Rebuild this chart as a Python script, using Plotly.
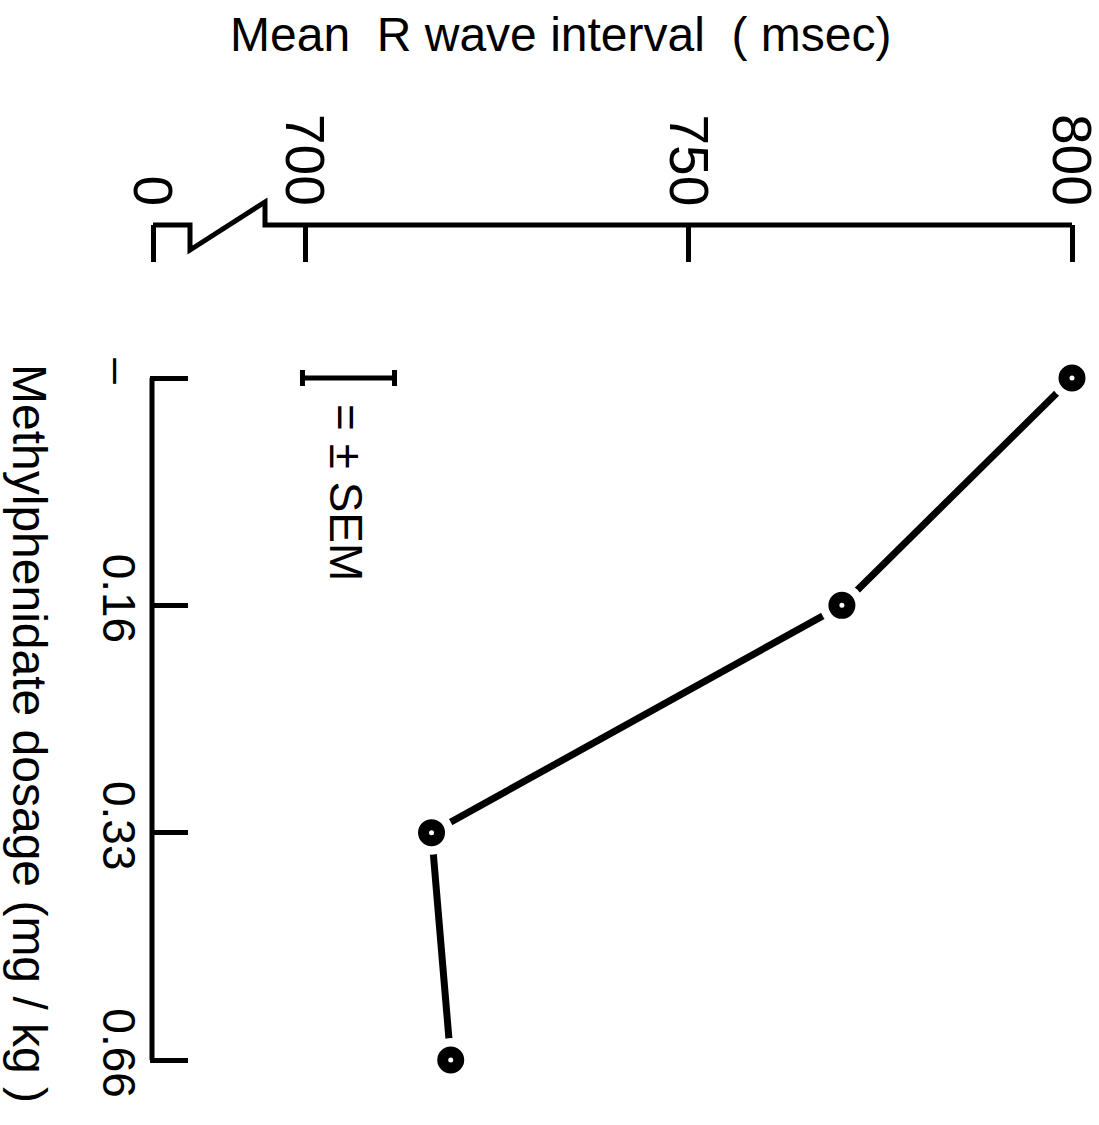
import plotly.graph_objects as go

# Mean R-R interval at each methylphenidate dose
DOSES = ["–", "0.16", "0.33", "0.66"]
RR_MSEC = [800.0, 770.0, 716.5, 719.0]

# Interval axis ticks (axis is broken between 0 and 700)
X_TICK_VALUES = [700, 750, 800]
X_TICK_TEXT = ["0", "700", "750", "800"]

# Size of the ± SEM key bar (msec)
SEM_MSEC = 6.0

FONT = "Liberation Sans, Arial, sans-serif"

W, H = 1099, 1125
ML, MR, MT, MB = 150, 9, 225, 25
PW, PH = W - ML - MR, H - MT - MB

# pixel layout of the interval axis
PX_700, PX_800 = 305, 1072
PX_PER_MS = (PX_800 - PX_700) / 100.0


def xval(px):
    """Convert a horizontal pixel position into axis units."""
    return 700 + (px - PX_700) / PX_PER_MS


def ypap(py):
    """Convert a vertical pixel position into paper units."""
    return (H - MB - py) / PH


X_RANGE = [xval(ML), xval(W - MR)]
ZERO_POS = xval(153)  # where the "0" sits left of the break
X_TICK_POS = [ZERO_POS] + X_TICK_VALUES

# category axis: first tick at 378 px, last at 1060 px
UNIT = (1060 - 378) / 3.0
Y_RANGE = [3 + (H - MB - 1060) / UNIT, -(378 - MT) / UNIT]

fig = go.Figure()

# connecting line
fig.add_trace(go.Scatter(
    x=RR_MSEC, y=DOSES, mode="lines",
    line=dict(color="black", width=7),
    hoverinfo="skip", showlegend=False,
))
# white halo leaves a gap between line and symbol
fig.add_trace(go.Scatter(
    x=RR_MSEC, y=DOSES, mode="markers",
    marker=dict(color="white", size=44),
    hoverinfo="skip", showlegend=False,
))
# data symbols
fig.add_trace(go.Scatter(
    x=RR_MSEC, y=DOSES, mode="markers",
    marker=dict(symbol="circle", color="white", size=16,
                line=dict(color="black", width=11)),
    showlegend=False,
))
# ± SEM key
fig.add_trace(go.Scatter(
    x=[xval(348.5)], y=[DOSES[0]], mode="markers",
    marker=dict(opacity=0),
    error_x=dict(type="data", array=[SEM_MSEC], color="black",
                 thickness=5, width=8),
    hoverinfo="skip", showlegend=False,
))

# interval axis line with the break symbol
brk = [
    (ZERO_POS, 1.0),
    (xval(190), 1.0),
    (xval(190), ypap(250)),
    (xval(265), ypap(202)),
    (xval(265), 1.0),
    (800, 1.0),
]
path = "M " + " L ".join(f"{a},{b}" for a, b in brk)
fig.add_shape(type="path", path=path, xref="x", yref="paper",
              line=dict(color="black", width=5))

# dosage axis line
fig.add_shape(type="line", xref="paper", yref="y",
              x0=(152 - ML) / PW, x1=(152 - ML) / PW, y0=0, y1=3,
              line=dict(color="black", width=5))

# rotated interval tick labels, sitting just above the axis line
for pos, txt in zip(X_TICK_POS, X_TICK_TEXT):
    fig.add_annotation(
        text=txt, textangle=90, showarrow=False,
        xref="x", yref="paper", x=pos, y=ypap(207),
        xanchor="center", yanchor="bottom",
        borderpad=0,
        font=dict(family=FONT, size=55, color="black"),
    )

fig.add_annotation(
    text="= ± SEM", textangle=90, showarrow=False,
    xref="x", yref="paper", x=xval(346), y=ypap(492),
    xanchor="center", yanchor="middle",
    font=dict(family=FONT, size=46, color="black"),
)
fig.add_annotation(
    text="Mean  R wave interval  ( msec)", showarrow=False,
    xref="paper", yref="paper", x=(561 - ML) / PW, y=ypap(34),
    xanchor="center", yanchor="middle",
    font=dict(family=FONT, size=48, color="black"),
)
fig.add_annotation(
    text="Methylphenidate dosage (mg / kg )", textangle=90, showarrow=False,
    xref="paper", yref="paper", x=(30 - ML) / PW, y=ypap(733),
    xanchor="center", yanchor="middle",
    font=dict(family=FONT, size=48, color="black"),
)

fig.update_xaxes(
    range=X_RANGE, side="top", automargin=False,
    tickvals=X_TICK_POS, showticklabels=False,
    ticks="inside", ticklen=37, tickwidth=5, tickcolor="black",
    showline=False, showgrid=False, zeroline=False,
)
fig.update_yaxes(
    type="category", categoryarray=DOSES, range=Y_RANGE, automargin=False,
    ticks="inside", ticklen=38, tickwidth=5, tickcolor="black",
    tickangle=90, ticklabeloverflow="allow",
    tickfont=dict(family=FONT, size=46, color="black"),
    showline=False, showgrid=False, zeroline=False,
)

fig.update_layout(
    width=W, height=H,
    margin=dict(l=ML, r=MR, t=MT, b=MB),
    paper_bgcolor="white", plot_bgcolor="white",
    showlegend=False,
)

fig.write_html("out.html")
